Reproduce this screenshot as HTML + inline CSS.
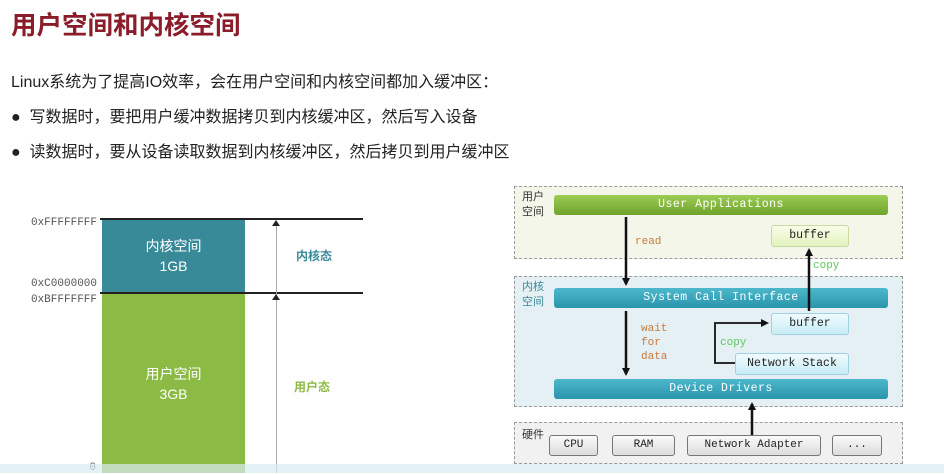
<!DOCTYPE html>
<html><head><meta charset="utf-8"><style>
body{margin:0;width:944px;height:473px;background:#fff;position:relative;overflow:hidden;font-family:"Liberation Sans","Noto Sans CJK SC",sans-serif}
.a{position:absolute}
.m{font-family:"Liberation Mono","DejaVu Sans Mono",monospace}
.bar{position:absolute;border-radius:3px;color:#fff;font-family:"Liberation Mono",monospace;font-size:11.5px;text-align:center;line-height:20px;height:20px;letter-spacing:.5px}
.g{background:linear-gradient(#9ccc55,#6fa32c)}
.t{background:linear-gradient(#4db8cc,#2a95ab)}
.box{position:absolute;border-radius:3px;font-family:"Liberation Mono",monospace;font-size:11.5px;text-align:center;color:#222;height:20px;line-height:20px}
.hw{position:absolute;border:1px solid #777;border-radius:3px;background:linear-gradient(#fafafa,#dcdcdc);font-family:"Liberation Mono",monospace;font-size:11px;text-align:center;height:19px;line-height:19px;color:#222}
.dash{position:absolute;border:1px dashed #999}
</style></head><body>
<div class="a" style="left:11px;top:5px;font-size:25.5px;font-weight:bold;color:#8b1c2a">用户空间和内核空间</div>
<div class="a" style="left:11px;top:68px;font-size:16px;color:#222">Linux系统为了提高IO效率，会在用户空间和内核空间都加入缓冲区：</div>
<div class="a" style="left:11px;top:103px;font-size:16px;color:#222">●&nbsp;&nbsp;写数据时，要把用户缓冲数据拷贝到内核缓冲区，然后写入设备</div>
<div class="a" style="left:11px;top:138px;font-size:16px;color:#222">●&nbsp;&nbsp;读数据时，要从设备读取数据到内核缓冲区，然后拷贝到用户缓冲区</div>

<div class="a" style="left:102px;top:219px;width:143px;height:73px;background:#388a99"></div>
<div class="a" style="left:102px;top:293px;width:143px;height:180px;background:#8cbb45"></div>
<div class="a" style="left:100px;top:218px;width:263px;height:2px;background:#222"></div>
<div class="a" style="left:100px;top:292px;width:263px;height:2px;background:#222"></div>
<div class="a" style="left:276px;top:222px;width:1px;height:251px;background:#aaa"></div>
<div class="a" style="left:272px;top:220px;border-left:4px solid transparent;border-right:4px solid transparent;border-bottom:6px solid #222"></div>
<div class="a" style="left:272px;top:294px;border-left:4px solid transparent;border-right:4px solid transparent;border-bottom:6px solid #222"></div>
<div class="a" style="left:102px;top:236px;width:143px;text-align:center;color:#fff;font-size:14px;line-height:20px">内核空间<br>1GB</div>
<div class="a" style="left:102px;top:364px;width:143px;text-align:center;color:#fff;font-size:14px;line-height:20px">用户空间<br>3GB</div>
<div class="a" style="left:296px;top:247px;color:#3a8a9a;font-weight:bold;font-size:12px">内核态</div>
<div class="a" style="left:294px;top:378px;color:#8cbb45;font-weight:bold;font-size:12px">用户态</div>
<div class="a m" style="right:847px;top:217px;font-size:11px;color:#555">0xFFFFFFFF</div>
<div class="a m" style="right:847px;top:278px;font-size:11px;color:#555">0xC0000000</div>
<div class="a m" style="right:847px;top:294px;font-size:11px;color:#555">0xBFFFFFFF</div>
<div class="a m" style="right:848px;top:462px;font-size:11px;color:#555">0</div>
<div class="a" style="left:0;top:464px;width:944px;height:9px;background:#d8ebf2;opacity:.7"></div>

<div class="dash" style="left:514px;top:186px;width:387px;height:71px;background:#f4f6ea"></div>
<div class="dash" style="left:514px;top:276px;width:387px;height:129px;background:#e4f0f4"></div>
<div class="dash" style="left:514px;top:422px;width:387px;height:40px;background:#f1f1f1"></div>
<div class="a" style="left:522px;top:190px;font-size:11px;color:#333;line-height:15px">用户<br>空间</div>
<div class="a" style="left:522px;top:280px;font-size:11px;color:#3a8a9a;line-height:15px">内核<br>空间</div>
<div class="a" style="left:522px;top:426px;font-size:11px;color:#333">硬件</div>
<div class="bar g" style="left:554px;top:195px;width:334px">User Applications</div>
<div class="box" style="left:771px;top:225px;width:76px;background:linear-gradient(#f8fde8,#e2f2c0);border:1px solid #c9dca0">buffer</div>
<div class="bar t" style="left:554px;top:288px;width:334px">System Call Interface</div>
<div class="box" style="left:771px;top:313px;width:76px;background:linear-gradient(#f0fbfe,#c8ecf6);border:1px solid #9fd2e0">buffer</div>
<div class="box" style="left:735px;top:353px;width:112px;background:linear-gradient(#f0fbfe,#c8ecf6);border:1px solid #9fd2e0">Network Stack</div>
<div class="bar t" style="left:554px;top:379px;width:334px">Device Drivers</div>
<div class="hw" style="left:549px;top:435px;width:47px">CPU</div>
<div class="hw" style="left:612px;top:435px;width:61px">RAM</div>
<div class="hw" style="left:687px;top:435px;width:132px">Network Adapter</div>
<div class="hw" style="left:832px;top:435px;width:48px">...</div>
<div class="a m" style="left:635px;top:236px;font-size:11px;color:#c87a3a">read</div>
<div class="a m" style="left:641px;top:322px;font-size:11px;color:#c87a3a;line-height:14px">wait<br>for<br>data</div>
<div class="a m" style="left:813px;top:260px;font-size:11px;color:#5cc85c">copy</div>
<div class="a m" style="left:720px;top:337px;font-size:11px;color:#5cc85c">copy</div>
<svg class="a" style="left:0;top:0" width="944" height="473">
<defs><marker id="ar" markerWidth="8" markerHeight="8" refX="6" refY="4" orient="auto" markerUnits="userSpaceOnUse"><path d="M0,0L8,4L0,8z" fill="#111"/></marker></defs>
<g stroke="#111" stroke-width="2.5" fill="none">
<line x1="626" y1="217" x2="626" y2="284" marker-end="url(#ar)"/>
<line x1="626" y1="311" x2="626" y2="374" marker-end="url(#ar)"/>
<line x1="809" y1="311" x2="809" y2="250" marker-end="url(#ar)"/>
<line x1="752" y1="435" x2="752" y2="404" marker-end="url(#ar)"/>
<polyline stroke-width="1.8" points="735,363 715,363 715,323 767,323" marker-end="url(#ar)"/>
</g></svg>
</body></html>
